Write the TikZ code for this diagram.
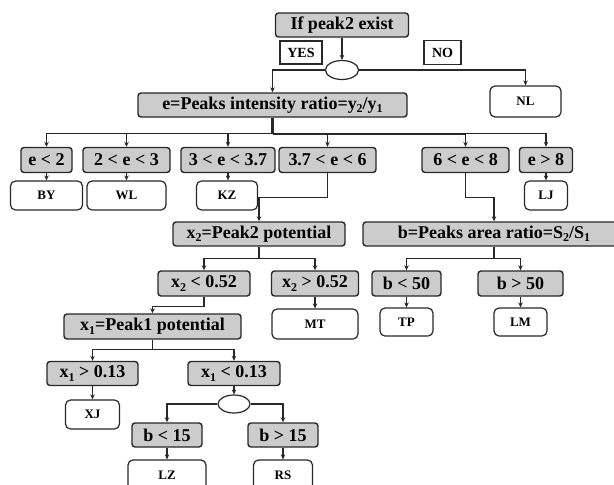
\documentclass[tikz,border=0pt]{standalone}
\usepackage{fontspec}
\setmainfont{Liberation Serif}
\usetikzlibrary{arrows.meta,calc,shapes.geometric}
\definecolor{boxgray}{RGB}{204,204,204}
\definecolor{edgec}{RGB}{40,40,40}
\newcommand{\mysub}[1]{\raisebox{-0.4ex}{\fontsize{12}{12}\selectfont #1}}
\tikzset{
  gbox/.style={draw=edgec, line width=1.4pt, fill=boxgray, rounded corners=3pt, inner sep=0pt,
    font=\fontsize{18}{18}\selectfont\bfseries},
  leaf/.style={draw=edgec, line width=1.2pt, fill=white, rounded corners=5pt, inner sep=0pt,
    font=\fontsize{13}{13}\selectfont\bfseries},
  tag/.style={draw=edgec, line width=1.2pt, fill=white, inner sep=0pt,
    font=\fontsize{14}{14}\selectfont\bfseries},
  junc/.style={draw=edgec, line width=1.2pt, fill=white, ellipse, inner sep=0pt},
  conn/.style={draw=edgec, line width=1.1pt, -{Stealth[length=5pt,width=4.5pt]}},
  plain/.style={draw=edgec, line width=1.1pt},
  thick stem/.style={draw=edgec, line width=2.2pt},
}
\begin{document}
\begin{tikzpicture}[x=1pt,y=-1pt]
\useasboundingbox (0,0) rectangle (614,485);
\clip (0,0) rectangle (614,485);
\fill[white] (0,0) rectangle (614,485);

% top level
\node[gbox, minimum width=133pt, minimum height=24pt] (top) at (342,25) {If peak2 exist};
\node[tag, minimum width=42pt, minimum height=23pt] (yes) at (301,52.5) {YES};
\node[tag, minimum width=37pt, minimum height=24pt] (no) at (442.5,52.5) {NO};
\node[junc, minimum width=33pt, minimum height=19pt] (ell1) at (342,70) {};
\node[leaf, minimum width=71pt, minimum height=31pt] (nl) at (525.5,101.5) {NL};
\node[gbox, minimum width=269pt, minimum height=24pt] (ebox) at (272.5,105) {e=Peaks intensity ratio=y\mysub{2}/y\mysub{1}};

% e ranges
\node[gbox, minimum width=51pt, minimum height=25pt] (e2) at (46.5,160) {e < 2};
\node[gbox, minimum width=87pt, minimum height=25pt] (e23) at (126.5,160) {2 < e < 3};
\node[gbox, minimum width=94pt, minimum height=25pt] (e337) at (228,160) {3 < e < 3.7};
\node[gbox, minimum width=97pt, minimum height=25pt] (e376) at (327.5,160) {3.7 < e < 6};
\node[gbox, minimum width=87pt, minimum height=25pt] (e68) at (465.5,160) {6 < e < 8};
\node[gbox, minimum width=53pt, minimum height=25pt] (e8) at (546,160) {e > 8};

% leaves row 1
\node[leaf, minimum width=72pt, minimum height=29pt] (by) at (46.5,195.5) {BY};
\node[leaf, minimum width=79pt, minimum height=29pt] (wl) at (126.5,195.5) {WL};
\node[leaf, minimum width=61pt, minimum height=29pt] (kz) at (227,195.5) {KZ};
\node[leaf, minimum width=43pt, minimum height=29pt] (lj) at (546,195.5) {LJ};

% second level
\node[gbox, minimum width=172pt, minimum height=24pt] (x2box) at (259,234) {x\mysub{2}=Peak2 potential};
\node[gbox, minimum width=262pt, minimum height=24pt] (bbox) at (494,234) {b=Peaks area ratio=S\mysub{2}/S\mysub{1}};

\node[gbox, minimum width=92pt, minimum height=25pt] (x2lt) at (204,283.5) {x\mysub{2} < 0.52};
\node[gbox, minimum width=87pt, minimum height=25pt] (x2gt) at (315,283.5) {x\mysub{2} > 0.52};
\node[gbox, minimum width=69pt, minimum height=25pt] (b50lt) at (406.5,283.5) {b < 50};
\node[gbox, minimum width=85pt, minimum height=25pt] (b50gt) at (520.5,283.5) {b > 50};

\node[leaf, minimum width=86pt, minimum height=30pt] (mt) at (315,324) {MT};
\node[leaf, minimum width=53pt, minimum height=28pt] (tp) at (406.5,322) {TP};
\node[leaf, minimum width=53pt, minimum height=28pt] (lm) at (520.5,322) {LM};

% third level
\node[gbox, minimum width=177pt, minimum height=25pt] (x1box) at (152.5,326.5) {x\mysub{1}=Peak1 potential};
\node[gbox, minimum width=91pt, minimum height=24pt] (x1gt) at (92.5,373.5) {x\mysub{1} > 0.13};
\node[gbox, minimum width=92pt, minimum height=24pt] (x1lt) at (234,373.5) {x\mysub{1} < 0.13};
\node[leaf, minimum width=54pt, minimum height=29pt] (xj) at (92.5,414.5) {XJ};
\node[junc, minimum width=32pt, minimum height=18pt] (ell2) at (234,404) {};
\node[gbox, minimum width=70pt, minimum height=24pt] (b15lt) at (167,435) {b < 15};
\node[gbox, minimum width=70pt, minimum height=24pt] (b15gt) at (283,435) {b > 15};
\node[leaf, minimum width=78pt, minimum height=30pt] (lz) at (167,475) {LZ};
\node[leaf, minimum width=59pt, minimum height=30pt] (rs) at (283,475) {RS};

% connectors: top
\draw[conn] (top.south) -- (ell1.north);
\draw[conn] (ell1.west) -| (ebox.north);
\draw[conn] (ell1.east) -| (nl.north);

% e box to ranges
\path (ebox.south) ++(0,16) coordinate (bar);
\draw[thick stem] (ebox.south) -- (bar);
\draw[thick stem] (bar) -- (bar -| e68.north);
\draw[conn] (bar) -| (e2.north);
\draw[conn] (bar) -| (e23.north);
\draw[conn] (bar) -| (e337.north);
\draw[conn] (bar) -| (e376.north);
\draw[conn] (bar) -| (e68.north);
\draw[conn] (bar) -| (e8.north);

\draw[conn] (e2.south) -- (e2.south |- by.north);
\draw[conn] (e23.south) -- (e23.south |- wl.north);
\draw[conn] (e337.south) -- (e337.south |- kz.north);
\draw[conn] (e8.south) -- (e8.south |- lj.north);

\draw[conn] (e376.south) -- ++(0,24.5) -| (x2box.north);
\draw[conn] (e68.south) -- ++(0,24.5) -| (bbox.north);

% x2 box
\path (x2box.south) ++(0,12) coordinate (xbar);
\draw[plain] (x2box.south) -- (xbar);
\draw[conn] (xbar) -| (x2lt.north);
\draw[conn] (xbar) -| (x2gt.north);
\draw[conn] (x2gt.south) -- (x2gt.south |- mt.north);

% b box
\path (bbox.south) ++(0,12) coordinate (bbar);
\draw[plain] (bbox.south) -- (bbar);
\draw[conn] (bbar) -| (b50lt.north);
\draw[conn] (bbar) -| (b50gt.north);
\draw[conn] (b50lt.south) -- (b50lt.south |- tp.north);
\draw[conn] (b50gt.south) -- (b50gt.south |- lm.north);

% x2 < 0.52 to x1 box
\draw[conn] (x2lt.south) -- ++(0,10) -| (x1box.north);

% x1 box
\path (x1box.south) ++(0,10) coordinate (x1bar);
\draw[plain] (x1box.south) -- (x1bar);
\draw[conn] (x1bar) -| (x1gt.north);
\draw[conn] (x1bar) -| (x1lt.north);
\draw[conn] (x1gt.south) -- (x1gt.south |- xj.north);
\draw[conn] (x1lt.south) -- (ell2.north);
\draw[conn] (ell2.west) -| (b15lt.north);
\draw[conn] (ell2.east) -| (b15gt.north);
\draw[conn] (b15lt.south) -- (b15lt.south |- lz.north);
\draw[conn] (b15gt.south) -- (b15gt.south |- rs.north);
\end{tikzpicture}
\end{document}
